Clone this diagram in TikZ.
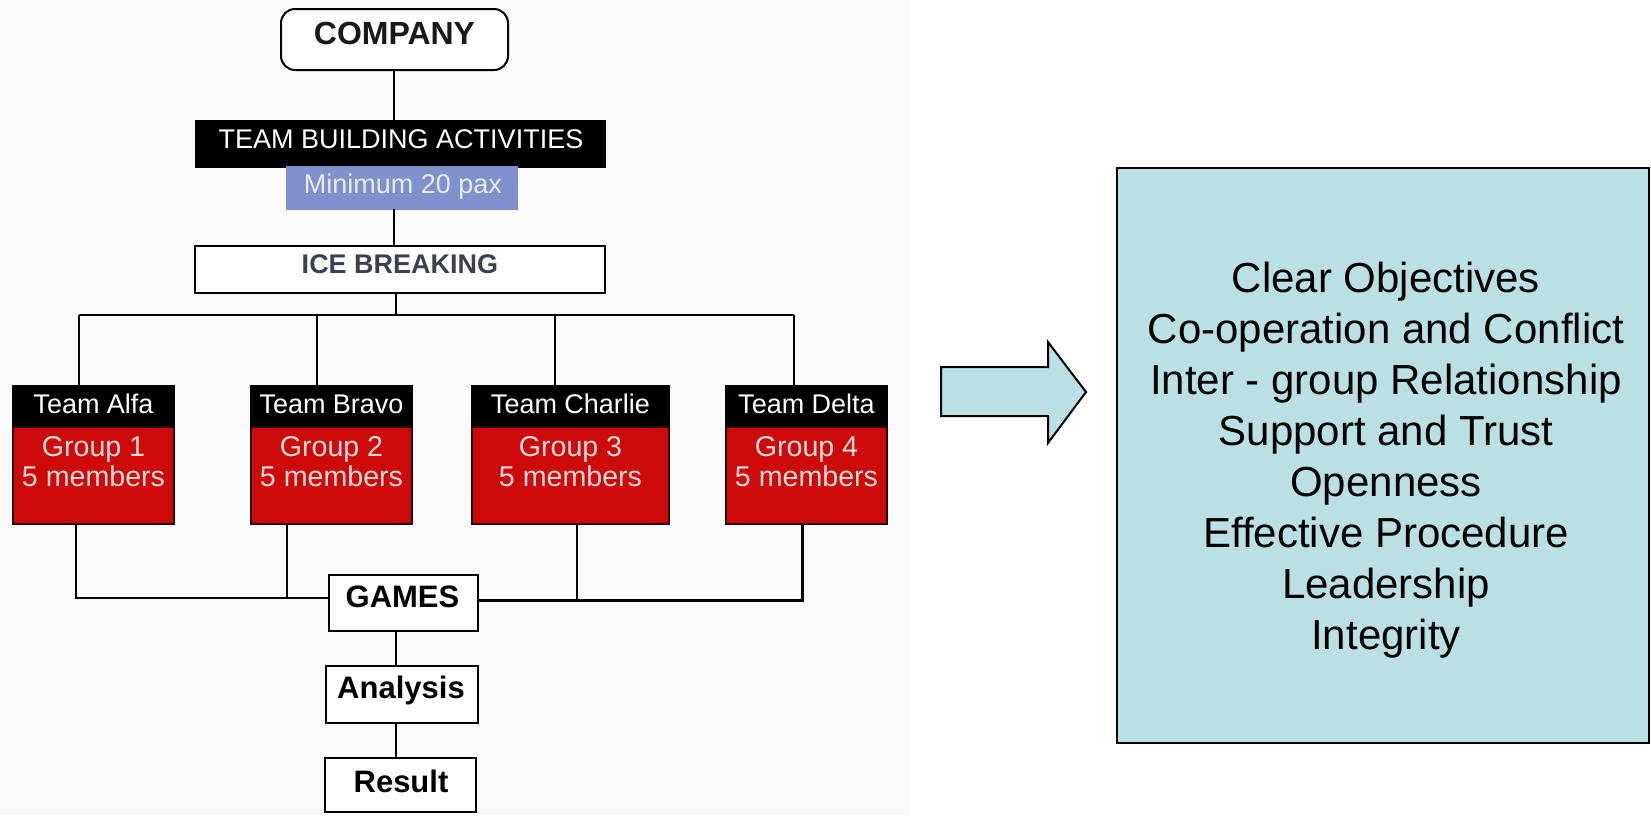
\documentclass[tikz,border=0pt]{standalone}
\usepackage{fontspec}
\setmainfont{Liberation Sans}
\usetikzlibrary{fit}
\definecolor{redbox}{HTML}{CC0A0A}
\definecolor{paxblue}{HTML}{8090CC}
\definecolor{paxtxt}{HTML}{E8ECF8}
\definecolor{icetxt}{HTML}{3C4054}
\definecolor{grouptxt}{HTML}{F8DADA}
\definecolor{qualfill}{HTML}{BBE0E3}
\definecolor{panelbg}{HTML}{FAFAFA}
\begin{document}
\begin{tikzpicture}[x=0.5pt,y=-0.5pt,
  box/.style={inner sep=0pt, outer sep=0pt, draw=black, line width=1pt},
  txt/.style={anchor=base, inner sep=0pt, outer sep=0pt},
  link/.style={draw=black, line width=1pt},
  small/.style={font=\fontsize{13.5pt}{16pt}\selectfont},
  grp/.style={font=\fontsize{14.3pt}{17pt}\selectfont},
  boldsmall/.style={font=\fontsize{13.5pt}{16pt}\selectfont\bfseries},
  bigb/.style={font=\fontsize{15.5pt}{18pt}\selectfont\bfseries},
  listtxt/.style={font=\fontsize{21pt}{25.5pt}\selectfont},
]
\useasboundingbox (0,0) rectangle (1651,815);
\fill[panelbg] (0,0) rectangle (910,815);

% top chain
\node[box, rounded corners=7pt, fill=white, fit={(281,9) (508,70)}] (company) {};
\node[txt, font=\fontsize{16pt}{19pt}\selectfont\bfseries, text=black!90] (tcompany) at (394.5,44) {COMPANY};
\node[box, fill=black, fit={(196,121) (605,167)}] (tba) {};
\node[txt, small, text=white] (ttba) at (401,148) {TEAM BUILDING ACTIVITIES};
\node[box, draw=paxblue, fill=paxblue, fit={(287,167) (517,209)}] (pax) {};
\node[txt, small, text=paxtxt] (tpax) at (403,193) {Minimum 20 pax};
\node[box, fill=white, fit={(195,246) (605,293)}] (ice) {};
\node[txt, boldsmall, text=icetxt] (tice) at (400,273) {ICE BREAKING};

\coordinate (spine) at (394,0);
\coordinate (spineb) at (396,0);
\draw[link] (spine |- company.south) -- (spine |- tba.north);
\draw[link] (spine |- pax.south) -- (spine |- ice.north);

% bus
\coordinate (dA) at (79,315);
\coordinate (dB) at (317,315);
\coordinate (dC) at (555,315);
\coordinate (dD) at (794,315);
\draw[link] (spineb |- ice.south) -- (spineb |- dA);
\draw[link] (dA) -- (dD);

% teams
\foreach \n/\a/\b/\t/\g in {alfa/13/174/Team Alfa/1, bravo/251/412/Team Bravo/2, charlie/472/669/Team Charlie/3, delta/726/887/Team Delta/4}{
  \pgfmathsetmacro{\c}{(\a+\b)/2}
  \node[box, fill=black, fit={(\a,386) (\b,427)}] (\n-head) {};
  \node[box, draw=black!80!redbox, fill=redbox, fit={(\a,427) (\b,524)}] (\n-grp) {};
  \node[txt, small, text=white] (\n-t1) at (\c,413) {\t};
  \node[txt, grp, text=grouptxt] (\n-t2) at (\c,456) {Group \g};
  \node[txt, grp, text=grouptxt] (\n-t3) at (\c,486) {5 members};
}
\draw[link] (dA) -- (dA |- alfa-head.north);
\draw[link] (dB) -- (dB |- bravo-head.north);
\draw[link] (dC) -- (dC |- charlie-head.north);
\draw[link] (dD) -- (dD |- delta-head.north);

% games chain
\node[box, fill=white, fit={(329,575) (478,631)}] (games) {};
\node[txt, bigb] (tgames) at (402.5,607) {GAMES};
\node[box, fill=white, fit={(326,666) (478,723)}] (analysis) {};
\node[txt, bigb] (tanalysis) at (401,698) {Analysis};
\node[box, fill=white, fit={(325,758) (476,812)}] (result) {};
\node[txt, bigb] (tresult) at (401,792) {Result};

\coordinate (uA) at (76,598);
\coordinate (uB) at (287,598);
\coordinate (uC) at (577,600);
\coordinate (uD) at (802,600);
\draw[link] (uA |- alfa-grp.south) -- (uA) -- (uA -| games.west);
\draw[link] (uB |- bravo-grp.south) -- (uB);
\draw[link] (uC |- charlie-grp.south) -- (uC);
\draw[link, line width=1.5pt] (uD |- delta-grp.south) -- (uD) -- (uD -| games.east);
\draw[link] (spineb |- games.south) -- (spineb |- analysis.north);
\draw[link] (spineb |- analysis.south) -- (spineb |- result.north);

% block arrow
\filldraw[fill=qualfill, draw=black, line width=1pt, line join=miter]
  (941,367) -- (1048,367) -- (1048,342) -- (1086,392) -- (1048,443) -- (1048,416) -- (941,416) -- cycle;

% qualities box
\node[box, fill=qualfill, fit={(1117,168) (1649,743)}] (qual) {};
\foreach \i/\s in {0/Clear Objectives, 1/Co-operation and Conflict, 2/Inter - group Relationship, 3/Support and Trust, 4/Openness, 5/Effective Procedure, 6/Leadership, 7/Integrity}{
  \node[txt, listtxt] (q\i) at (1386,{292+51.1*\i}) {\s};
}
\end{tikzpicture}
\end{document}
